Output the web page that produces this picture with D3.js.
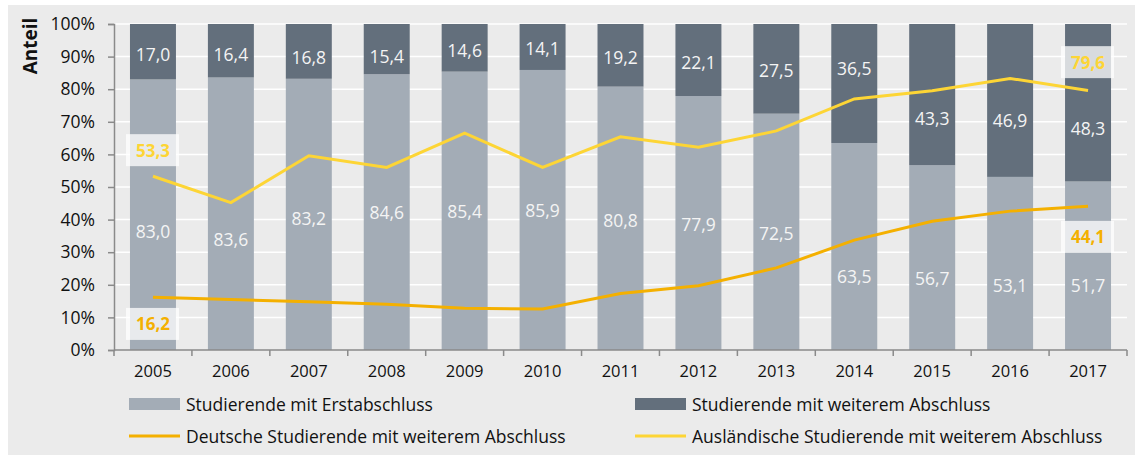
<!doctype html>
<html>
<head>
<meta charset="utf-8">
<script src="https://cdn.jsdelivr.net/npm/d3@7"></script>
<style>
  body { margin: 0; background: #fff; }
  svg { display: block; font-family: "Open Sans", sans-serif; }
</style>
</head>
<body>
<svg width="1145" height="455"></svg>
<script>
// --- data ---
var years = ["2005","2006","2007","2008","2009","2010","2011","2012","2013","2014","2015","2016","2017"];
var erstabschluss = [83.0, 83.6, 83.2, 84.6, 85.4, 85.9, 80.8, 77.9, 72.5, 63.5, 56.7, 53.1, 51.7];
var weiterer = [17.0, 16.4, 16.8, 15.4, 14.6, 14.1, 19.2, 22.1, 27.5, 36.5, 43.3, 46.9, 48.3];
var deutsche = [16.2, 15.5, 14.8, 14.0, 12.8, 12.6, 17.3, 19.7, 25.2, 33.7, 39.5, 42.6, 44.1];
var auslaendische = [53.3, 45.2, 59.6, 56.0, 66.5, 56.0, 65.4, 62.2, 67.2, 77.0, 79.5, 83.3, 79.6];
var yTicks = [0, 10, 20, 30, 40, 50, 60, 70, 80, 90, 100];

// where the labels sit (in % of the axis)
var erstLabelAt = [36.5, 34.0, 40.5, 42.2, 42.7, 43.0, 40.0, 38.8, 36.0, 22.7, 22.1, 19.9, 19.9];
var weitLabelAt = [90.8, 90.8, 89.9, 90.2, 92.0, 92.6, 89.9, 88.3, 85.9, 86.5, 71.2, 70.6, 68.1];

var fmt = function(v) { return v.toFixed(1).replace(".", ","); };

var svg = d3.select("svg");

svg.append("rect")
   .attr("x", 8).attr("y", 5)
   .attr("width", 1127).attr("height", 450)
   .attr("fill", "#ebebeb");

var pLeft = 114, pRight = 1127, pTop = 24, pBottom = 350;

var x = d3.scaleBand().domain(years).range([pLeft, pRight])
          .paddingInner(0.41).paddingOuter(0.205);
var y = d3.scaleLinear().domain([0, 100]).range([pBottom, pTop]);
var cx = function(i) { return x(years[i]) + x.bandwidth() / 2; };

// grid
svg.append("g").selectAll("line")
   .data(yTicks.filter(function(d) { return d > 0; }))
   .enter().append("line")
   .attr("x1", pLeft).attr("x2", pRight)
   .attr("y1", function(d) { return y(d); })
   .attr("y2", function(d) { return y(d); })
   .attr("stroke", "#fff").attr("stroke-width", 1.5);

// bars
var bars = svg.append("g");
bars.selectAll(".erst")
    .data(erstabschluss)
    .enter().append("rect")
    .attr("x", function(d, i) { return x(years[i]); })
    .attr("y", function(d) { return y(d); })
    .attr("width", x.bandwidth())
    .attr("height", function(d) { return pBottom - y(d); })
    .attr("fill", "#a3acb6");

bars.selectAll(".weit")
    .data(weiterer)
    .enter().append("rect")
    .attr("x", function(d, i) { return x(years[i]); })
    .attr("y", function(d, i) { return y(erstabschluss[i] + d); })
    .attr("width", x.bandwidth())
    .attr("height", function(d) { return y(0) - y(d); })
    .attr("fill", "#636f7c");

// bar labels
var labels = svg.append("g")
   .attr("fill", "#f4f4f4").attr("font-size", 17.5)
   .attr("text-anchor", "middle").attr("dominant-baseline", "central");
labels.selectAll(".le")
   .data(erstabschluss).enter().append("text")
   .attr("x", function(d, i) { return cx(i); })
   .attr("y", function(d, i) { return y(erstLabelAt[i]); })
   .text(fmt);
labels.selectAll(".ld")
   .data(weiterer).enter().append("text")
   .attr("x", function(d, i) { return cx(i); })
   .attr("y", function(d, i) { return y(weitLabelAt[i]); })
   .text(fmt);

// lines
var line = d3.line()
   .x(function(d, i) { return cx(i); })
   .y(function(d) { return y(d); });

svg.append("path").datum(auslaendische)
   .attr("d", line).attr("fill", "none")
   .attr("stroke", "#fdd535").attr("stroke-width", 3);
svg.append("path").datum(deutsche)
   .attr("d", line).attr("fill", "none")
   .attr("stroke", "#f4b000").attr("stroke-width", 3);

// line end labels
var last = years.length - 1;
var endLabels = [
  { i: 0, v: auslaendische[0], at: 61.3, c: "#fdd535" },
  { i: 0, v: deutsche[0], at: 8.0, c: "#f4b000" },
  { i: last, v: auslaendische[last], at: 88.3, c: "#fdd535" },
  { i: last, v: deutsche[last], at: 34.7, c: "#f4b000" }
];
var el = svg.append("g").selectAll("g").data(endLabels).enter().append("g");
el.append("rect")
  .attr("x", function(d) { return cx(d.i) - 27; })
  .attr("y", function(d) { return y(d.at) - 16; })
  .attr("width", 53).attr("height", 32)
  .attr("fill", "#fff").attr("fill-opacity", 0.75);
el.append("text")
  .attr("x", function(d) { return cx(d.i); })
  .attr("y", function(d) { return y(d.at); })
  .attr("text-anchor", "middle").attr("dominant-baseline", "central")
  .attr("font-size", 17).attr("font-weight", "bold")
  .attr("fill", function(d) { return d.c; })
  .text(function(d) { return fmt(d.v); });

// axes
var yAxis = svg.append("g")
   .attr("transform", "translate(" + pLeft + ",0)")
   .call(d3.axisLeft(y).tickValues(yTicks).tickSize(6).tickPadding(13)
         .tickFormat(function(d) { return d + "%"; }));
var xAxis = svg.append("g")
   .attr("transform", "translate(0," + pBottom + ")")
   .call(d3.axisBottom(x).tickSize(0).tickPadding(15));

[yAxis, xAxis].forEach(function(a) {
  a.select(".domain").attr("stroke", "#8a8a8a").attr("stroke-width", 1.5);
  a.selectAll(".tick line").attr("stroke", "#8a8a8a").attr("stroke-width", 1.5);
  a.selectAll("text").attr("font-family", "'Open Sans', sans-serif")
   .attr("font-size", 17.5).attr("fill", "#111");
});
xAxis.select(".domain").attr("d", "M" + pLeft + ",0H" + pRight);
xAxis.selectAll("text").attr("font-size", 16.5);

// x ticks between categories
xAxis.selectAll(".sep")
   .data(d3.range(years.length + 1)).enter().append("line")
   .attr("x1", function(i) { return pLeft + i * x.step(); })
   .attr("x2", function(i) { return pLeft + i * x.step(); })
   .attr("y1", 0).attr("y2", 6)
   .attr("stroke", "#8a8a8a").attr("stroke-width", 1.5);

svg.append("text")
   .attr("transform", "translate(37,46) rotate(-90)")
   .attr("text-anchor", "middle")
   .attr("font-size", 19).attr("font-weight", "bold").attr("fill", "#111")
   .text("Anteil");

// legend
var legend = [
  { t: "Studierende mit Erstabschluss", c: "#a3acb6", bar: true, x: 129, y: 404 },
  { t: "Studierende mit weiterem Abschluss", c: "#636f7c", bar: true, x: 635, y: 404 },
  { t: "Deutsche Studierende mit weiterem Abschluss", c: "#f4b000", bar: false, x: 129, y: 436 },
  { t: "Ausländische Studierende mit weiterem Abschluss", c: "#fdd535", bar: false, x: 635, y: 436 }
];
var lg = svg.append("g").selectAll("g").data(legend).enter().append("g")
   .attr("transform", function(d) { return "translate(" + d.x + "," + d.y + ")"; });
lg.filter(function(d) { return d.bar; }).append("rect")
  .attr("x", 0).attr("y", -6).attr("width", 51).attr("height", 12)
  .attr("fill", function(d) { return d.c; });
lg.filter(function(d) { return !d.bar; }).append("line")
  .attr("x1", 0).attr("x2", 51).attr("y1", 0).attr("y2", 0)
  .attr("stroke", function(d) { return d.c; }).attr("stroke-width", 3);
lg.append("text")
  .attr("x", 57).attr("dominant-baseline", "central")
  .attr("font-size", 17.5).attr("fill", "#111")
  .text(function(d) { return d.t; });
</script>
</body>
</html>
